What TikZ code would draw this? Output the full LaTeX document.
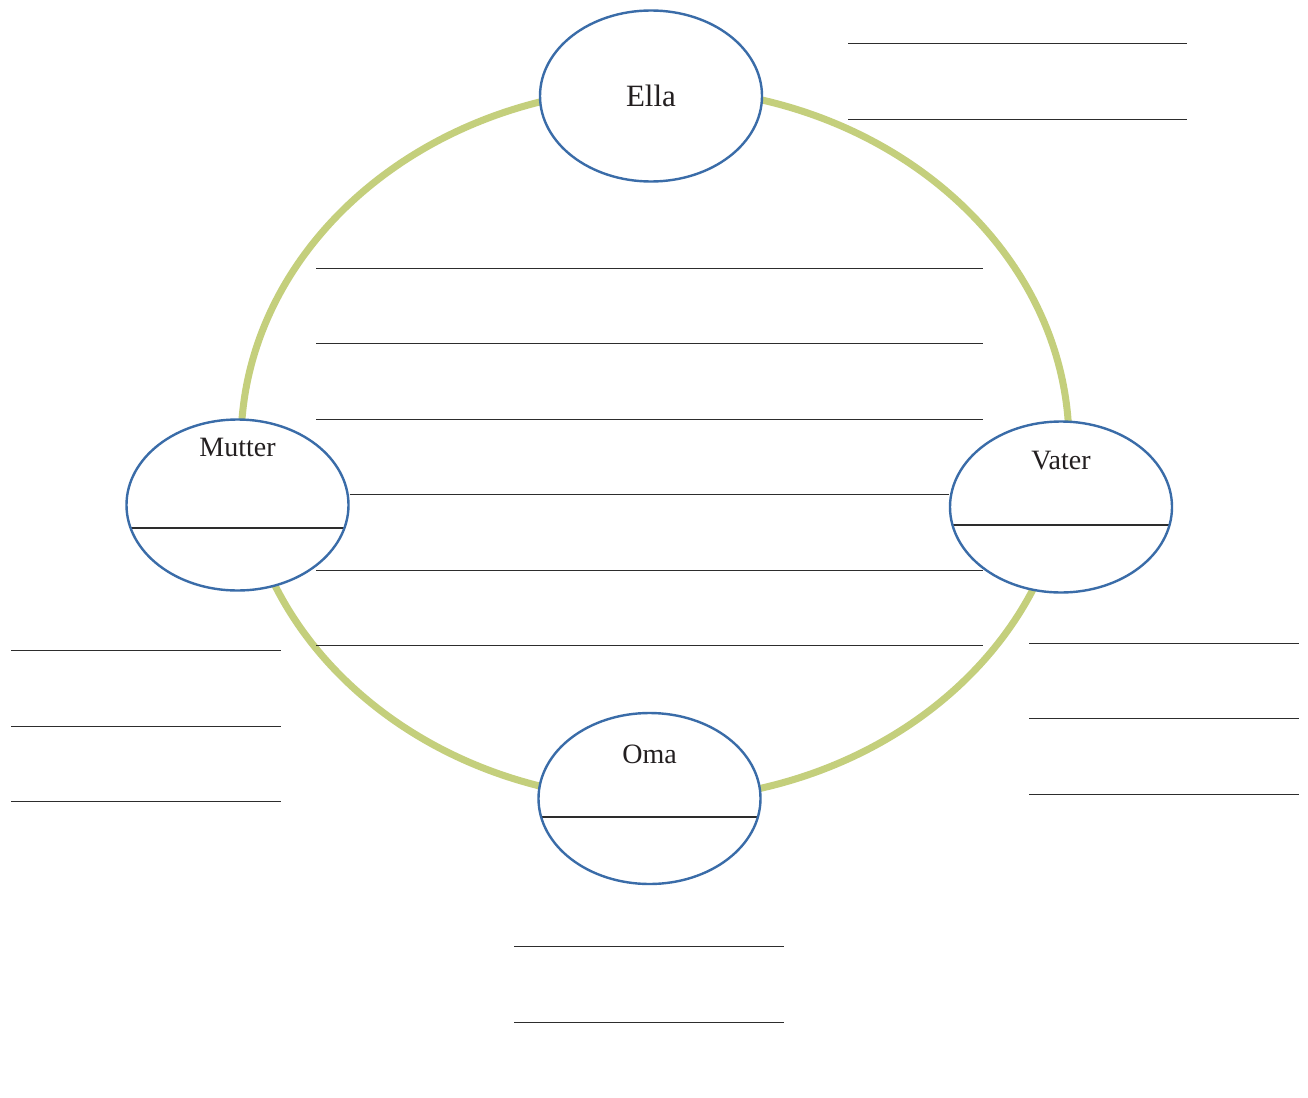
\documentclass[tikz,border=0pt]{standalone}
\usepackage{fontspec}
\setmainfont{Liberation Serif}
\usetikzlibrary{shapes.geometric,calc}

\definecolor{cycleGreen}{RGB}{196,207,124}
\definecolor{rimBlue}{RGB}{58,108,168}
\definecolor{inkGray}{RGB}{35,31,32}
\definecolor{ruleGray}{RGB}{45,45,45}

\begin{document}
\begin{tikzpicture}[x=1pt,y=-1pt,
  member/.style={ellipse, draw=rimBlue, line width=2.4pt, fill=white,
    minimum width=222pt, minimum height=171pt, inner sep=0pt,
    text=inkGray, font=\fontsize{31}{36}\selectfont},
  split/.style={path picture={
    \draw[ruleGray, line width=1.1pt]
      ($(path picture bounding box.west)+(0,#1)$) --
      ($(path picture bounding box.east)+(0,#1)$);}},
  membername/.style={inner sep=0pt, text=inkGray, font=\fontsize{28}{33}\selectfont},
  writeline/.style={ruleGray, line width=1pt}]

  % page
  \fill[white] (0,0) rectangle (1308,1097);
  \useasboundingbox (0,0) rectangle (1308,1097);

  % family cycle
  \draw[cycleGreen, line width=7pt] (655,444) ellipse [x radius=414pt, y radius=356pt];

  % central writing lines
  \foreach \y in {268,343,419,570,645}
    \draw[writeline] (316,\y) -- (983,\y);

  % members
  \node[member] (ella) at (651,96) {Ella};
  \node[member, split=23] (mutter) at (237.5,505) {};
  \node[member, split=18] (vater) at (1061,507) {};
  \node[member, split=18.5] (oma) at (649.5,798.5) {};

  \node[membername] (muttername) at ($(mutter.center)+(0,-58)$) {Mutter};
  \node[membername] (vatername) at ($(vater.center)+(0,-46)$) {Vater};
  \node[membername] (omaname) at ($(oma.center)+(0,-44)$) {Oma};

  % line between Mutter and Vater
  \draw[writeline] (mutter.east |- 0,494) -- (vater.west |- 0,494);

  % writing lines next to Ella
  \foreach \y in {44,120}
    \draw[writeline] (848,\y) -- (1187,\y);

  % writing lines below Mutter
  \foreach \y in {650,726,801}
    \draw[writeline] (11,\y) -- (281,\y);

  % writing lines below Vater
  \foreach \y in {643,718,794}
    \draw[writeline] (1029,\y) -- (1299,\y);

  % writing lines below Oma
  \foreach \y in {946,1022}
    \draw[writeline] (514,\y) -- (784,\y);
\end{tikzpicture}
\end{document}
